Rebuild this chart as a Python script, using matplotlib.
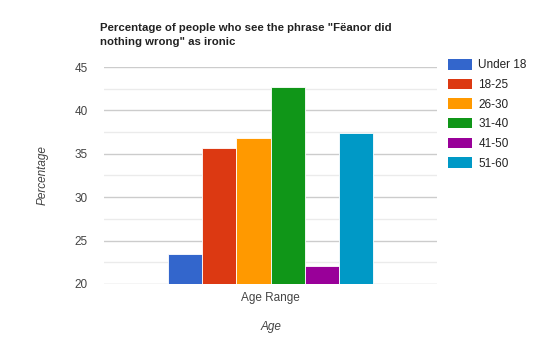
import matplotlib.pyplot as plt
from matplotlib.patches import Patch

# Dados
faixas = ["Under 18", "18-25", "26-30", "31-40", "41-50", "51-60"]
percentuais = [23.5, 35.7, 36.8, 42.7, 22.1, 37.4]
cores = ["#3366cc", "#dc3912", "#ff9900", "#109618", "#990099", "#0099c6"]
categoria = "Age Range"
yticks = [20, 25, 30, 35, 40, 45]

plt.rcParams['font.family'] = ['Liberation Sans', 'DejaVu Sans']

fig = plt.figure(figsize=(5.4, 3.51), dpi=100)
ax = fig.add_axes([0.193, 0.191, 0.616, 0.618])

n = len(faixas)
for i, (faixa, valor, cor) in enumerate(zip(faixas, percentuais, cores)):
    ax.bar(i - (n - 1) / 2, valor - 20, bottom=20, width=1.0, color=cor,
           edgecolor="white", linewidth=0.6, zorder=3)

ax.set_xlim(-4.85, 4.85)
ax.set_ylim(20, 45)
ax.set_yticks(yticks)
ax.set_yticks([22.5, 27.5, 32.5, 37.5, 42.5], minor=True)
ax.grid(axis='y', which='major', color="#cccccc", linewidth=1.0, zorder=0)
ax.grid(axis='y', which='minor', color="#ebebeb", linewidth=1.0, zorder=0)
ax.set_xticks([0])
ax.set_xticklabels([categoria])
ax.tick_params(axis='both', which='both', length=0, labelsize=8.5, colors="#444444", pad=6)
ax.tick_params(axis='y', pad=12)
for s in ax.spines.values():
    s.set_visible(False)

ax.set_ylabel("Percentage", fontstyle='italic', fontsize=8.5, color="#444444")
ax.yaxis.set_label_coords(-0.166, 0.5)
ax.set_xlabel("Age", fontstyle='italic', fontsize=8.5, color="#444444", labelpad=12)

fig.text(0.185, 0.9, 'Percentage of people who see the phrase "Fëanor did\nnothing wrong" as ironic',
         fontsize=8.2, fontweight='bold', color="#222222", va='center', ha='left', linespacing=1.4)

handles = [Patch(facecolor=c, edgecolor='none') for c in cores]
ax.legend(handles, faixas, loc='upper left', bbox_to_anchor=(0.829, 0.832),
          bbox_transform=fig.transFigure, frameon=False, fontsize=8.5,
          handlelength=2.1, handleheight=1.0, labelspacing=0.62, handletextpad=0.5,
          labelcolor="#222222", borderaxespad=0, borderpad=0)

plt.savefig("out.png", dpi=100)
